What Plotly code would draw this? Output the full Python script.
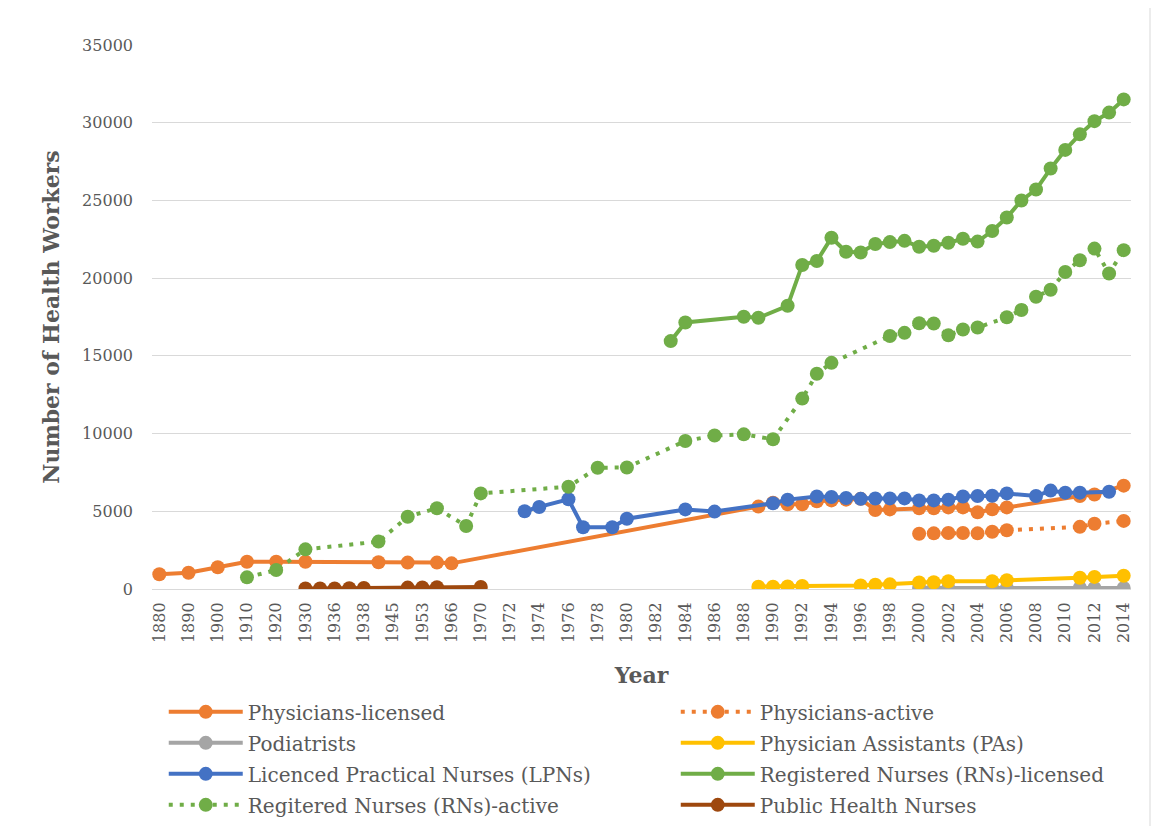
import plotly.graph_objects as go

# Category axis (every other category is labelled, as in the Excel original)
categories = ["1880", "1885", "1890", "1895", "1900", "1905", "1910", "1915", "1920", "1925",
              "1930", "1934", "1936", "1937", "1938", "1940", "1945", "1950", "1953", "1960",
              "1966", "1968"] + [str(y) for y in range(1970, 2015)]
tick_labels = categories[::2]

# Physicians-licensed
phys_lic_years = ["1880", "1890", "1900", "1910", "1920", "1930", "1940", "1950", "1960", "1966",
                  "1989", "1990", "1991", "1992", "1993", "1994", "1995", "1996", "1997", "1998",
                  "2000", "2001", "2002", "2003", "2004", "2005", "2006", "2011", "2012", "2014"]
phys_lic_vals = [950, 1050, 1400, 1750, 1750, 1750, 1720, 1700, 1700, 1650,
                 5300, 5550, 5450, 5450, 5650, 5700, 5750, 5800, 5080, 5120,
                 5190, 5200, 5250, 5250, 4930, 5130, 5250, 5980, 6080, 6650]

# Physicians-active
phys_act_years = ["2000", "2001", "2002", "2003", "2004", "2005", "2006", "2011", "2012", "2014"]
phys_act_vals = [3550, 3580, 3600, 3600, 3580, 3680, 3780, 4000, 4200, 4380]

# Podiatrists
pod_years = ["2000", "2001", "2002", "2005", "2006", "2011", "2012", "2014"]
pod_vals = [80, 40, 60, 60, 60, 80, 60, 70]

# Physician Assistants
pa_years = ["1989", "1990", "1991", "1992", "1996", "1997", "1998", "2000", "2001", "2002",
            "2005", "2006", "2011", "2012", "2014"]
pa_vals = [150, 150, 160, 190, 230, 270, 300, 420, 430, 500, 500, 560, 720, 780, 850]

# Licenced Practical Nurses
lpn_years = ["1973", "1974", "1976", "1977", "1979", "1980", "1984", "1986", "1990", "1991",
             "1993", "1994", "1995", "1996", "1997", "1998", "1999", "2000", "2001", "2002",
             "2003", "2004", "2005", "2006", "2008", "2009", "2010", "2011", "2013"]
lpn_vals = [5000, 5280, 5770, 3970, 3970, 4520, 5120, 4980, 5520, 5750,
            5950, 5920, 5850, 5800, 5820, 5830, 5830, 5700, 5700, 5750,
            5950, 5980, 6000, 6150, 5980, 6330, 6200, 6200, 6260]

# Registered Nurses-licensed
rn_lic_years = ["1983", "1984", "1988", "1989", "1991", "1992", "1993", "1994", "1995", "1996",
                "1997", "1998", "1999", "2000", "2001", "2002", "2003", "2004", "2005", "2006",
                "2007", "2008", "2009", "2010", "2011", "2012", "2013", "2014"]
rn_lic_vals = [15950, 17150, 17520, 17450, 18220, 20850, 21100, 22600, 21700, 21650,
               22200, 22320, 22400, 22020, 22080, 22280, 22530, 22350, 23030, 23900,
               25000, 25700, 27050, 28250, 29250, 30100, 30650, 31500]

# Registered Nurses-active
rn_act_years = ["1910", "1920", "1930", "1940", "1950", "1960", "1968", "1970", "1976", "1978",
                "1980", "1984", "1986", "1988", "1990", "1992", "1993", "1994", "1998", "1999",
                "2000", "2001", "2002", "2003", "2004", "2006", "2007", "2008", "2009", "2010",
                "2011", "2012", "2013", "2014"]
rn_act_vals = [750, 1220, 2550, 3050, 4650, 5200, 4050, 6150, 6580, 7800,
               7820, 9520, 9880, 9950, 9630, 12250, 13850, 14550, 16280, 16480,
               17100, 17080, 16320, 16700, 16820, 17480, 17950, 18800, 19250, 20400,
               21150, 21900, 20300, 21800]

# Public Health Nurses
phn_years = ["1930", "1934", "1936", "1937", "1938", "1950", "1953", "1960", "1970"]
phn_vals = [40, 30, 40, 50, 70, 90, 100, 110, 130]

series = [
    ("Physicians-licensed", phys_lic_years, phys_lic_vals, "#ED7D31", "solid"),
    ("Physicians-active", phys_act_years, phys_act_vals, "#ED7D31", "4px,7px"),
    ("Podiatrists", pod_years, pod_vals, "#A5A5A5", "solid"),
    ("Physician Assistants (PAs)", pa_years, pa_vals, "#FFC000", "solid"),
    ("Licenced Practical Nurses (LPNs)", lpn_years, lpn_vals, "#4472C4", "solid"),
    ("Registered Nurses (RNs)-licensed", rn_lic_years, rn_lic_vals, "#70AD47", "solid"),
    ("Regitered Nurses (RNs)-active", rn_act_years, rn_act_vals, "#70AD47", "4px,7px"),
    ("Public Health Nurses", phn_years, phn_vals, "#9E480E", "solid"),
]

fig = go.Figure()
for i, (name, xs, ys, color, dash) in enumerate(series):
    # left legend column gets even entries, right column odd ones
    fig.add_trace(go.Scatter(
        x=xs, y=ys, name=name, mode="lines+markers",
        line=dict(color=color, width=4, dash=dash),
        marker=dict(color=color, size=14),
        legend="legend" if i % 2 == 0 else "legend2",
        legendgroup=name,
    ))

serif = "DejaVu Serif"
legend_style = dict(
    orientation="v", y=-0.19, yanchor="top", xanchor="left",
    font=dict(family=serif, size=20, color="#595959"),
    itemwidth=74, tracegroupgap=2, bgcolor="rgba(0,0,0,0)",
)

fig.update_layout(
    width=1160, height=826,
    plot_bgcolor="white", paper_bgcolor="white",
    margin=dict(l=144, r=37, t=37, b=245, autoexpand=False),
    font=dict(family=serif, size=16, color="#595959"),
    xaxis=dict(
        type="category", categoryorder="array", categoryarray=categories,
        range=[-0.5, len(categories) - 0.5],
        tickmode="array", tickvals=tick_labels, ticktext=tick_labels,
        tickangle=-90, showgrid=False, showline=True, linecolor="#D9D9D9", linewidth=1,
        ticks="", ticklabelstandoff=6, tickfont=dict(family=serif, size=16, color="#595959"),
        title=dict(text="<b>Year</b>", font=dict(family=serif, size=22, color="#595959"), standoff=25),
    ),
    yaxis=dict(
        range=[0, 35000], dtick=5000, tickformat="d",
        showgrid=True, gridcolor="#D9D9D9", gridwidth=1,
        zeroline=False, showline=False, ticks="", ticklabelstandoff=18,
        tickfont=dict(family=serif, size=16, color="#595959"),
        title=dict(text="<b>Number of Health Workers</b>",
                   font=dict(family=serif, size=22, color="#595959"), standoff=16),
    ),
    legend=dict(x=0.012, **legend_style),
    legend2=dict(x=0.535, **legend_style),
    showlegend=True,
)

fig.add_shape(type="line", xref="paper", yref="paper",
              x0=(1142 - 144) / 979, x1=(1142 - 144) / 979, y0=-0.5, y1=1.2,
              line=dict(color="#D9D9D9", width=1))

fig.write_html("out.html")
